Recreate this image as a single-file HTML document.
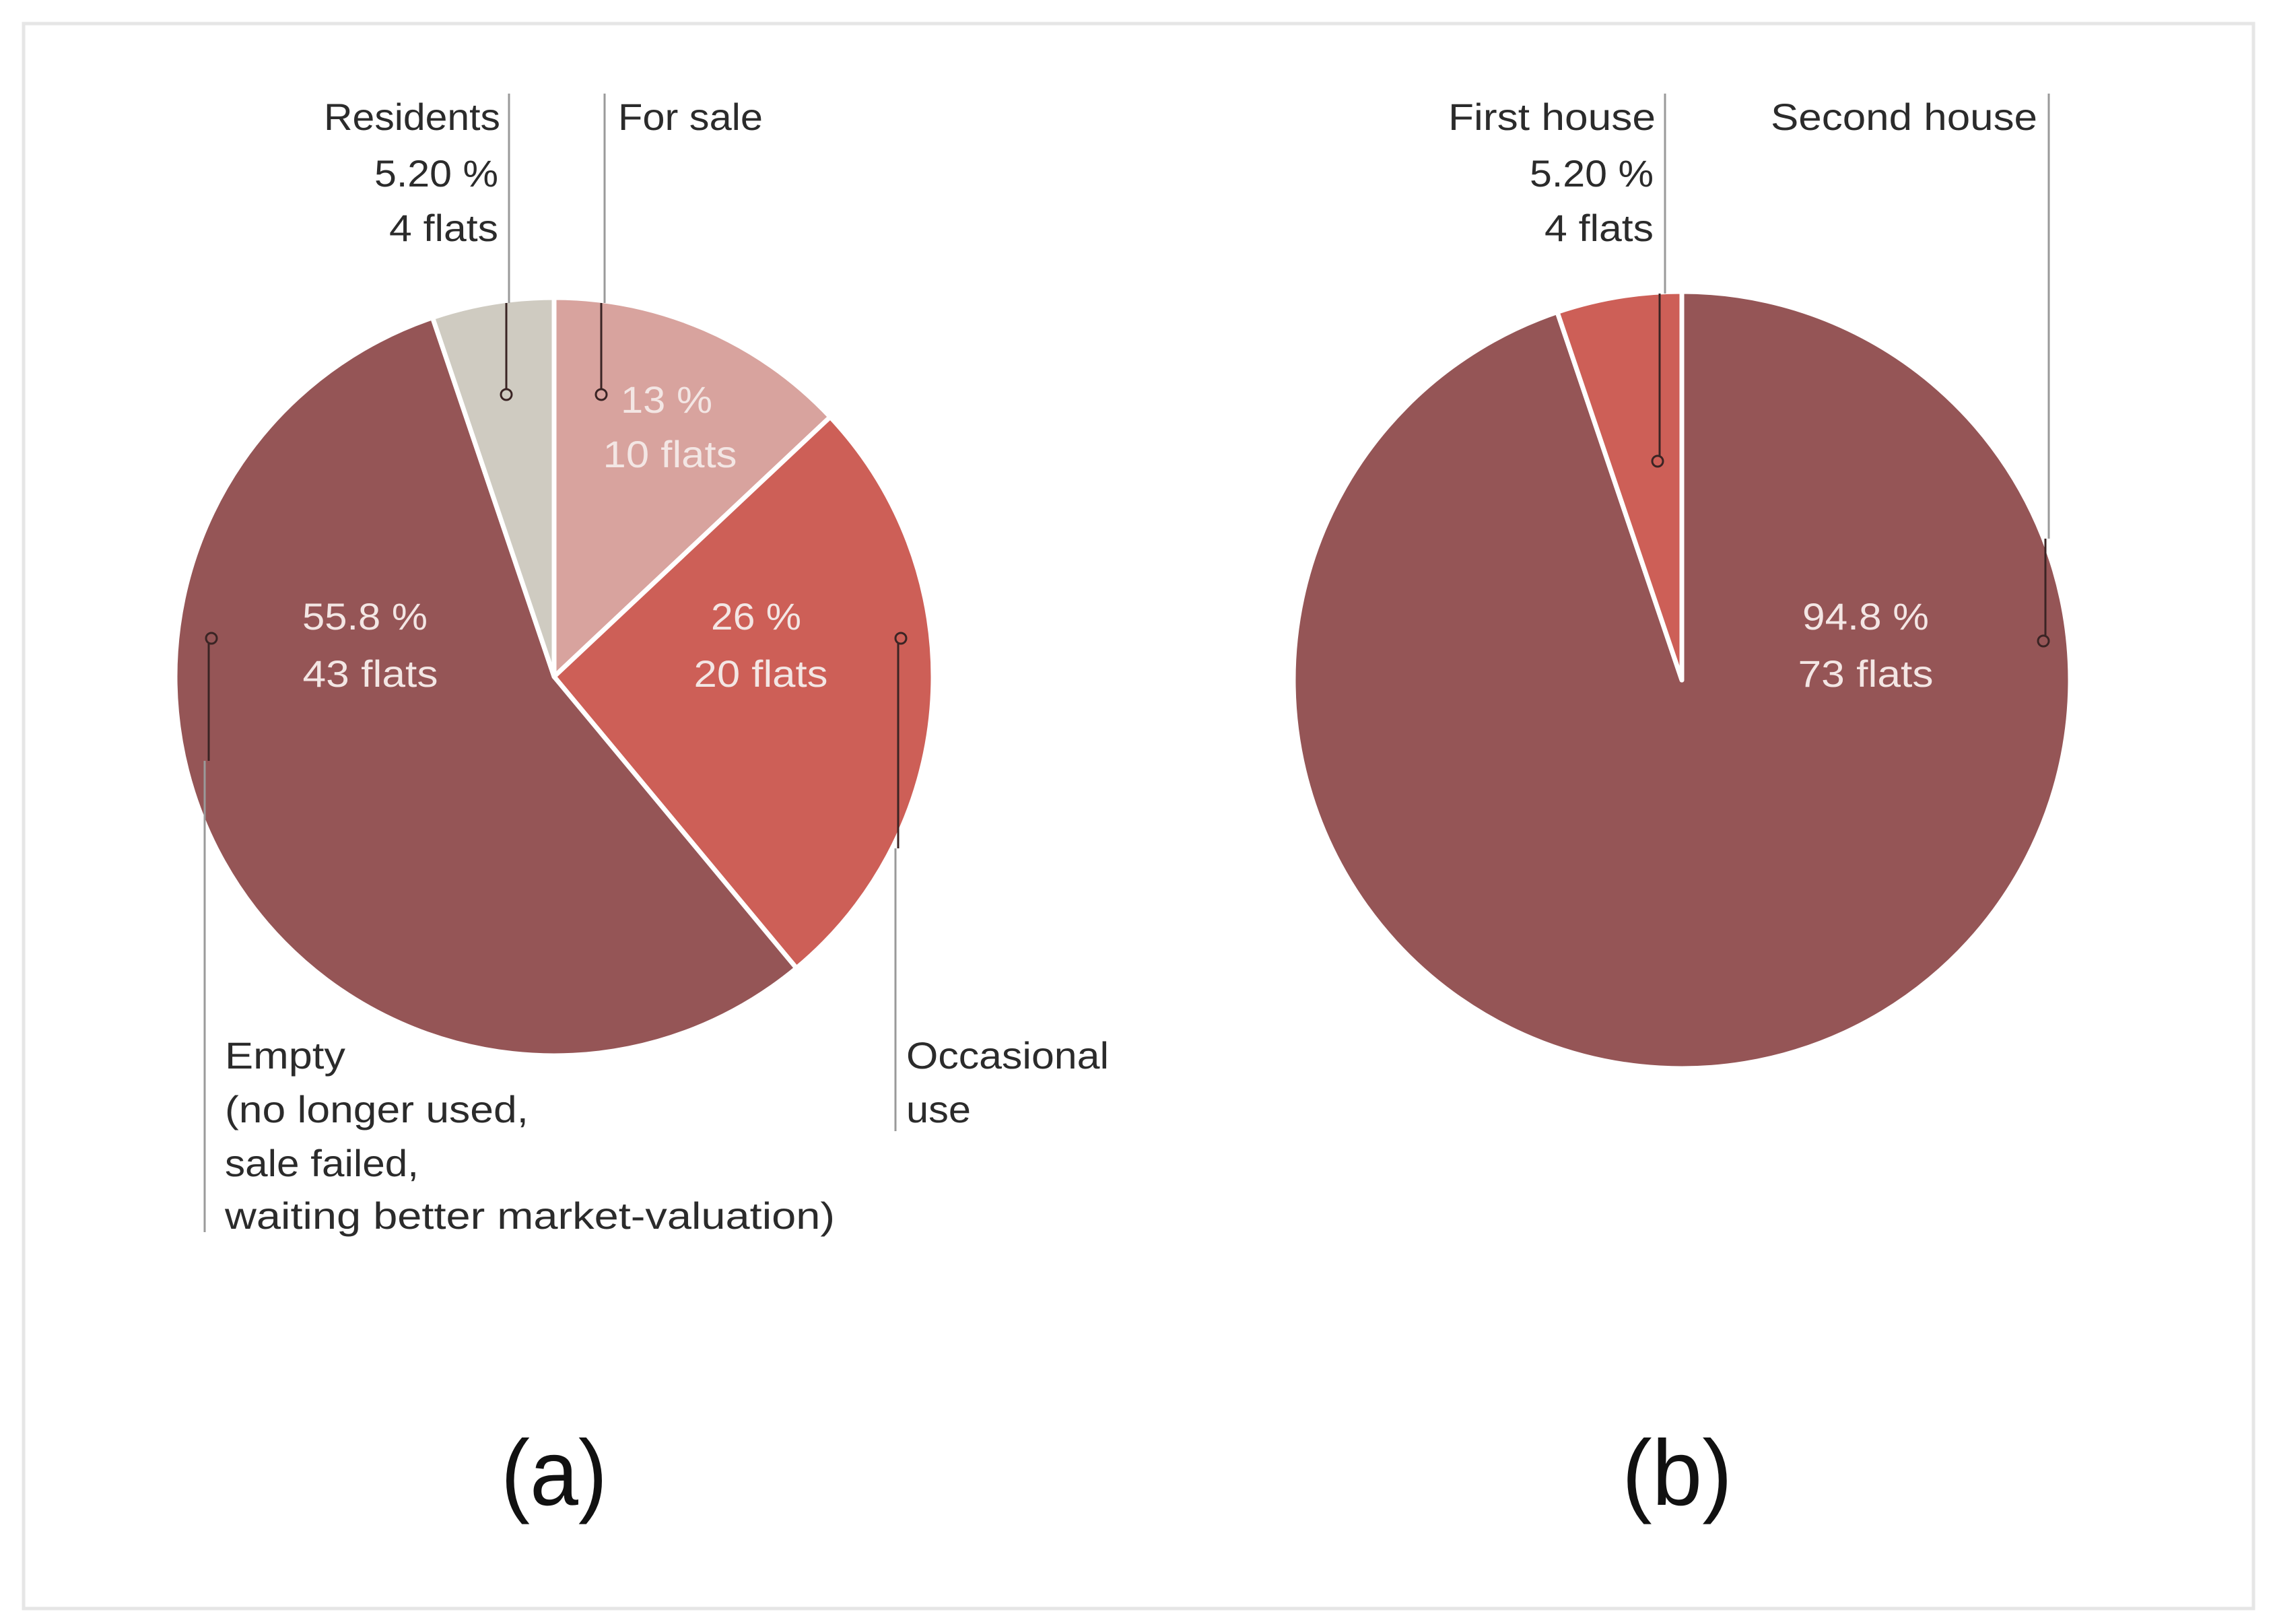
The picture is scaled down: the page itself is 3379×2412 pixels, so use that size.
<!DOCTYPE html>
<html><head><meta charset="utf-8"><style>
html,body{margin:0;padding:0;background:#fff;}
svg{display:block;}
text{font-family:"Liberation Sans",sans-serif;}
</style></head><body>
<svg id="chart" width="3379" height="2412" viewBox="0 0 3379 2412" xmlns="http://www.w3.org/2000/svg">
<rect x="35" y="35" width="3312" height="2354" fill="#fff" stroke="#e6e6e6" stroke-width="5"/>
<g id="pieA"></g>
<g id="pieB"></g>
<g id="leaders"></g>
<g font-size="56" fill="#2b2b2b">
<text x="743" y="193" text-anchor="end" textLength="262" lengthAdjust="spacingAndGlyphs">Residents</text>
<text x="740" y="277" text-anchor="end" textLength="184" lengthAdjust="spacingAndGlyphs">5.20 %</text>
<text x="740" y="358" text-anchor="end" textLength="162" lengthAdjust="spacingAndGlyphs">4 flats</text>
<text x="918" y="193" textLength="215" lengthAdjust="spacingAndGlyphs">For sale</text>
<text x="334" y="1587" textLength="179" lengthAdjust="spacingAndGlyphs">Empty</text>
<text x="334" y="1667" textLength="451" lengthAdjust="spacingAndGlyphs">(no longer used,</text>
<text x="334" y="1747" textLength="288" lengthAdjust="spacingAndGlyphs">sale failed,</text>
<text x="334" y="1825" textLength="906" lengthAdjust="spacingAndGlyphs">waiting better market-valuation)</text>
<text x="1346" y="1587" textLength="301" lengthAdjust="spacingAndGlyphs">Occasional</text>
<text x="1346" y="1667" textLength="96" lengthAdjust="spacingAndGlyphs">use</text>
</g>
<g font-size="56" fill="#f3e6e4" text-anchor="middle">
<text x="990" y="613" textLength="136" lengthAdjust="spacingAndGlyphs">13 %</text>
<text x="995" y="694" textLength="199" lengthAdjust="spacingAndGlyphs">10 flats</text>
<text x="542" y="935" textLength="186" lengthAdjust="spacingAndGlyphs">55.8 %</text>
<text x="550" y="1020" textLength="201" lengthAdjust="spacingAndGlyphs">43 flats</text>
<text x="1123" y="935" textLength="134" lengthAdjust="spacingAndGlyphs">26 %</text>
<text x="1130" y="1020" textLength="199" lengthAdjust="spacingAndGlyphs">20 flats</text>
<text x="2771" y="935" textLength="188" lengthAdjust="spacingAndGlyphs">94.8 %</text>
<text x="2771" y="1020" textLength="201" lengthAdjust="spacingAndGlyphs">73 flats</text>
</g>
<g font-size="56" fill="#2b2b2b">
<text x="2459" y="193" text-anchor="end" textLength="308" lengthAdjust="spacingAndGlyphs">First house</text>
<text x="2456" y="277" text-anchor="end" textLength="184" lengthAdjust="spacingAndGlyphs">5.20 %</text>
<text x="2456" y="358" text-anchor="end" textLength="162" lengthAdjust="spacingAndGlyphs">4 flats</text>
<text x="3026" y="193" text-anchor="end" textLength="396" lengthAdjust="spacingAndGlyphs">Second house</text>
</g>
<text x="823" y="2235" font-size="138" text-anchor="middle" fill="#111" textLength="158" lengthAdjust="spacingAndGlyphs">(a)</text>
<text x="2491" y="2235" font-size="138" text-anchor="middle" fill="#111" textLength="164" lengthAdjust="spacingAndGlyphs">(b)</text>
</svg>
<script>
const catsA = ["For sale", "Occasional use", "Empty", "Residents"];
const valsA = [10, 20, 43, 4];
const colorsA = ["#d8a39e", "#cd5f57", "#955556", "#cfcbc1"];
const catsB = ["Second house", "First house"];
const valsB = [73, 4];
const colorsB = ["#955556", "#cd5f57"];
const NS = "http://www.w3.org/2000/svg";

function drawPie(gid, cats, vals, colors, cx, cy, r) {
  const g = document.getElementById(gid);
  const total = vals.reduce((a, b) => a + b, 0);
  let a0 = -Math.PI / 2;
  vals.forEach((v, i) => {
    const a1 = a0 + v / total * 2 * Math.PI;
    const x0 = cx + r * Math.cos(a0), y0 = cy + r * Math.sin(a0);
    const x1 = cx + r * Math.cos(a1), y1 = cy + r * Math.sin(a1);
    const large = (a1 - a0) > Math.PI ? 1 : 0;
    const p = document.createElementNS(NS, "path");
    p.setAttribute("d", `M${cx},${cy} L${x0},${y0} A${r},${r} 0 ${large} 1 ${x1},${y1} Z`);
    p.setAttribute("fill", colors[i]);
    p.setAttribute("stroke", "#fff");
    p.setAttribute("stroke-width", "7");
    p.setAttribute("stroke-linejoin", "round");
    
    
    g.appendChild(p);
    a0 = a1;
  });
}
drawPie("pieA", catsA, valsA, colorsA, 823, 1005, 563);
drawPie("pieB", catsB, valsB, colorsB, 2498, 1010, 577);

const lg = document.getElementById("leaders");
function line(x1, y1, x2, y2, c, name) {
  const l = document.createElementNS(NS, "line");
  l.setAttribute("x1", x1); l.setAttribute("y1", y1);
  l.setAttribute("x2", x2); l.setAttribute("y2", y2);
  l.setAttribute("stroke", c); l.setAttribute("stroke-width", "3");
  
  
  lg.appendChild(l);
}
function dot(x, y, name) {
  const c = document.createElementNS(NS, "circle");
  c.setAttribute("cx", x); c.setAttribute("cy", y); c.setAttribute("r", "8");
  c.setAttribute("fill", "none"); c.setAttribute("stroke", "#3a2424"); c.setAttribute("stroke-width", "3");
  
  
  lg.appendChild(c);
}
line(756, 139, 756, 450, "#9a9a9a", "leader-residents");
line(752, 450, 752, 578, "#3a2424", "leader-residents-inner");
dot(752, 586, "leader-dot-residents");
line(898, 139, 898, 450, "#9a9a9a", "leader-for-sale");
line(893, 450, 893, 578, "#3a2424", "leader-for-sale-inner");
dot(893, 586, "leader-dot-for-sale");
line(310, 954, 310, 1130, "#3a2424", "leader-empty-inner");
line(304, 1130, 304, 1830, "#9a9a9a", "leader-empty");
dot(314, 948, "leader-dot-empty");
line(1334, 954, 1334, 1260, "#3a2424", "leader-occasional-inner");
line(1330, 1260, 1330, 1680, "#9a9a9a", "leader-occasional");
dot(1338, 948, "leader-dot-occasional");
line(2473, 139, 2473, 436, "#9a9a9a", "leader-first-house");
line(2465, 436, 2465, 677, "#3a2424", "leader-first-house-inner");
dot(2462, 685, "leader-dot-first-house");
line(3043, 139, 3043, 800, "#9a9a9a", "leader-second-house");
line(3038, 800, 3038, 944, "#3a2424", "leader-second-house-inner");
dot(3035, 952, "leader-dot-second-house");
</script>
</body></html>
